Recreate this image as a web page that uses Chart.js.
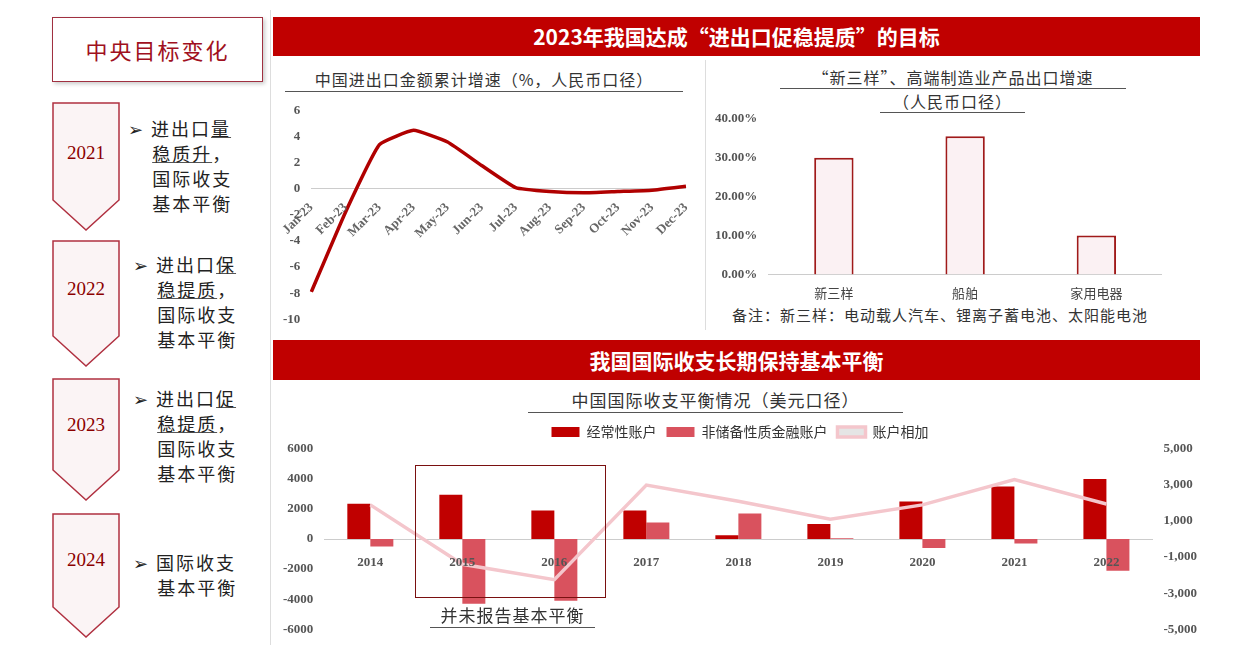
<!DOCTYPE html>
<html><head><meta charset="utf-8">
<script src="https://cdn.jsdelivr.net/npm/chart.js@4"></script>
<style>
body{margin:0;width:1259px;height:653px;background:#fff;position:relative;overflow:hidden;font-family:"Noto Sans CJK SC",sans-serif;}
.a{position:absolute;}
.banner{background:#c00000;color:#fff;font-weight:bold;font-size:21px;text-align:center;}
.chev{position:absolute;left:52px;width:68px;}
.chev svg{position:absolute;left:0;top:0;}
.chev .y{position:absolute;left:0;width:68px;text-align:center;font-family:"Liberation Serif";font-size:19px;color:#8b0000;}
.txt{position:absolute;font-size:18px;line-height:25px;color:#222;letter-spacing:2px;}
u{text-decoration-color:#555;}
.ttl{position:absolute;font-size:16px;color:#333;text-align:center;letter-spacing:1px;}
</style></head><body>
<div class="a" style="left:52px;top:17px;width:209px;height:63px;border:1.5px solid #a03040;box-shadow:2px 2px 4px #ccc;color:#a01020;font-size:22px;text-align:center;line-height:63px;letter-spacing:2px;">中央目标变化</div>

<div class="chev" style="top:102px;height:130px"><svg width="70" height="130"><path d="M1 1 H67 V98 L34 128 L1 98 Z" fill="#fbf4f5" stroke="#b03040" stroke-width="1.5"/></svg><div class="y" style="top:40px">2021</div></div>
<div class="chev" style="top:240px;height:128px"><svg width="70" height="128"><path d="M1 1 H67 V96 L34 126 L1 96 Z" fill="#fbf4f5" stroke="#b03040" stroke-width="1.5"/></svg><div class="y" style="top:38px">2022</div></div>
<div class="chev" style="top:378px;height:124px"><svg width="70" height="124"><path d="M1 1 H67 V92 L34 122 L1 92 Z" fill="#fbf4f5" stroke="#b03040" stroke-width="1.5"/></svg><div class="y" style="top:36px">2023</div></div>
<div class="chev" style="top:513px;height:126px"><svg width="70" height="126"><path d="M1 1 H67 V94 L34 124 L1 94 Z" fill="#fbf4f5" stroke="#b03040" stroke-width="1.5"/></svg><div class="y" style="top:36px">2024</div></div>

<div class="txt" style="left:128px;top:116px">➢ 进出口<u>量</u><br>&nbsp;&nbsp;&nbsp;&nbsp;<u>稳质升</u>，<br>&nbsp;&nbsp;&nbsp;&nbsp;国际收支<br>&nbsp;&nbsp;&nbsp;&nbsp;基本平衡</div>
<div class="txt" style="left:133px;top:252px">➢ 进出口<u>保</u><br>&nbsp;&nbsp;&nbsp;&nbsp;<u>稳提质</u>，<br>&nbsp;&nbsp;&nbsp;&nbsp;国际收支<br>&nbsp;&nbsp;&nbsp;&nbsp;基本平衡</div>
<div class="txt" style="left:133px;top:386px">➢ 进出口<u>促</u><br>&nbsp;&nbsp;&nbsp;&nbsp;<u>稳提质</u>，<br>&nbsp;&nbsp;&nbsp;&nbsp;国际收支<br>&nbsp;&nbsp;&nbsp;&nbsp;基本平衡</div>
<div class="txt" style="left:133px;top:550px">➢ 国际收支<br>&nbsp;&nbsp;&nbsp;&nbsp;基本平衡</div>

<div class="a" style="left:270px;top:10px;width:1px;height:635px;background:#ddd"></div>
<div class="a banner" style="left:273px;top:17px;width:927px;height:39px;line-height:39px;">2023年我国达成“进出口促稳提质”的目标</div>
<div class="a banner" style="left:273px;top:340px;width:927px;height:40px;line-height:40px;">我国国际收支长期保持基本平衡</div>
<div class="a" style="left:705px;top:60px;width:1px;height:270px;background:#ddd"></div>

<div class="ttl" style="left:285px;top:67px;width:398px;border-bottom:1px solid #555;line-height:24px">中国进出口金额累计增速（%，人民币口径）</div>
<div class="ttl" style="left:780px;top:66px;width:346px;border-bottom:1px solid #555;line-height:22px">“新三样”、高端制造业产品出口增速</div>
<div class="ttl" style="left:880px;top:90px;width:145px;border-bottom:1px solid #555;line-height:22px">（人民币口径）</div>
<div class="ttl" style="left:732px;top:304px;width:460px;font-size:15px;text-align:left">备注：新三样：电动载人汽车、锂离子蓄电池、太阳能电池</div>
<div class="ttl" style="left:528px;top:388px;width:375px;border-bottom:1px solid #555;line-height:24px;font-size:17px">中国国际收支平衡情况（美元口径）</div>

<div class="a" style="left:280px;top:100px;width:420px;height:230px"><canvas id="c1"></canvas></div>
<div class="a" style="left:712px;top:108px;width:450px;height:196px"><canvas id="c2"></canvas></div>
<div class="a" style="left:280px;top:415px;width:920px;height:225px"><canvas id="c3"></canvas></div>

<div class="a" style="left:415px;top:465px;width:189px;height:131px;border:1.5px solid #7a1010"></div>
<div class="ttl" style="left:430px;top:603px;width:165px;border-bottom:1px solid #555;font-size:17px;line-height:24px">并未报告基本平衡</div>

<script>
const months=['Jan-23','Feb-23','Mar-23','Apr-23','May-23','Jun-23','Jul-23','Aug-23','Sep-23','Oct-23','Nov-23','Dec-23'];
const tradeGrowth=[-7.9,-1.8,3.4,4.5,3.6,1.8,0.1,-0.2,-0.3,-0.2,-0.1,0.2];
const products=['新三样','船舶','家用电器'];
const productGrowth=[30,35.5,10];
const years=['2014','2015','2016','2017','2018','2019','2020','2021','2022'];
const currentAcct=[2350,2950,1900,1900,250,1000,2500,3500,4000];
const finAcct=[-500,-4300,-4100,1100,1700,50,-600,-300,-2100];
const sumAcct=[1900,-1400,-2250,3000,2100,1100,1900,3300,1950];

const serif={family:'Liberation Serif',size:13,weight:'bold'};
Chart.defaults.animation=false;
Chart.defaults.maintainAspectRatio=false;
Chart.defaults.color='#555';

new Chart(c1,{type:'line',data:{labels:months,datasets:[{data:tradeGrowth,borderColor:'#b00000',borderWidth:3.5,pointRadius:0,tension:0.12}]},
options:{plugins:{legend:{display:false}},layout:{padding:{right:10,top:5}},
scales:{x:{position:{y:0},grid:{display:false},border:{color:'#ccc'},ticks:{z:1,font:serif,minRotation:45,maxRotation:45,color:'#666'}},
y:{min:-10,max:6,grid:{display:false},border:{display:false},ticks:{stepSize:2,font:serif,color:'#555'}}}}});

new Chart(c2,{type:'bar',data:{labels:products,datasets:[{data:productGrowth,backgroundColor:'#fbf1f3',borderColor:'#a01a1a',borderWidth:2,barPercentage:0.3,categoryPercentage:1}]},
options:{plugins:{legend:{display:false}},
scales:{x:{grid:{display:false},border:{color:'#ccc'},ticks:{font:{family:'Noto Sans CJK SC',size:13},color:'#444'}},
y:{min:0,max:40,grid:{display:false},border:{display:false},ticks:{stepSize:10,font:serif,callback:v=>v.toFixed(2)+'%'}}}}});

new Chart(c3,{data:{labels:years,datasets:[
{type:'line',label:'账户相加',data:sumAcct,yAxisID:'y2',borderColor:'#f4c6cc',borderWidth:3.5,pointRadius:0,order:0},
{type:'bar',label:'经常性账户',data:currentAcct,yAxisID:'y',backgroundColor:'#c00000',barPercentage:1,categoryPercentage:0.5,order:1},
{type:'bar',label:'非储备性质金融账户',data:finAcct,yAxisID:'y',backgroundColor:'#d9525e',barPercentage:1,categoryPercentage:0.5,order:1}]},
options:{plugins:{legend:{labels:{boxWidth:28,boxHeight:10,font:{family:'Noto Sans CJK SC',size:14},color:'#333',
sort:(a,b)=>[1,2,0].indexOf(a.datasetIndex)-[1,2,0].indexOf(b.datasetIndex)}}},
scales:{x:{position:{y:0},grid:{display:false},border:{color:'#ccc'},ticks:{z:1,font:serif,color:'#555',padding:8}},
y:{min:-6000,max:6000,grid:{display:false},border:{display:false},ticks:{stepSize:2000,font:serif,callback:v=>String(v)}},
y2:{position:'right',min:-5000,max:5000,grid:{display:false},border:{display:false},ticks:{stepSize:2000,font:serif,callback:v=>v.toLocaleString('en-US')}}}}});
</script>
</body></html>
